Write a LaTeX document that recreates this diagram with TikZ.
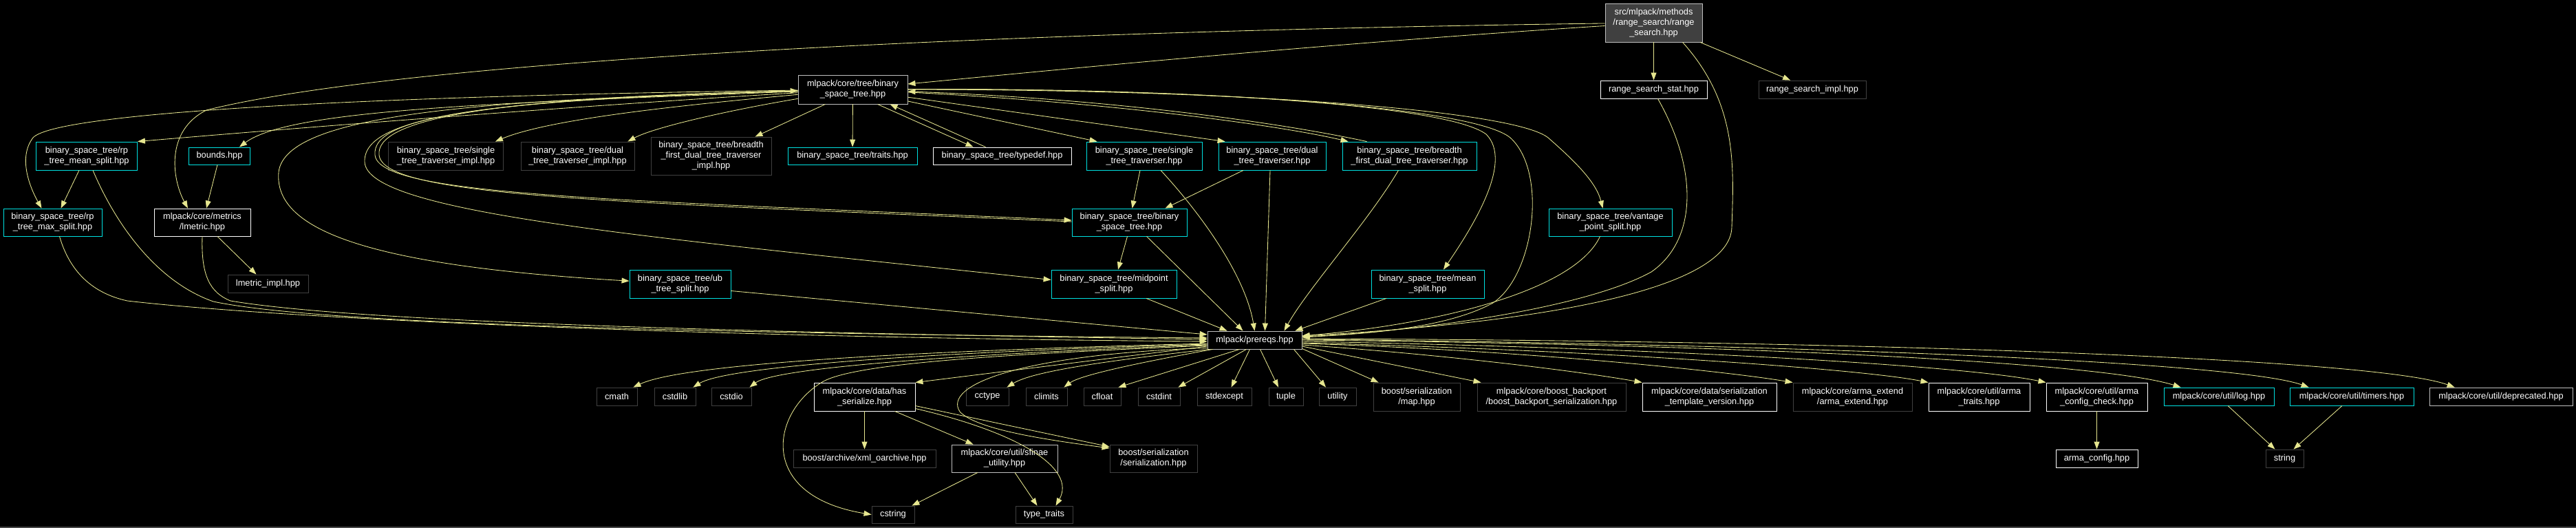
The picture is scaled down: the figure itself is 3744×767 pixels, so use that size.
\documentclass[tikz,border=0pt]{standalone}
\usepackage{fontspec}
\setmainfont{Liberation Sans}
\usetikzlibrary{arrows.meta,calc}
\definecolor{edgec}{RGB}{230,230,143}
\definecolor{cyanb}{RGB}{0,224,224}
\definecolor{lgray}{RGB}{191,191,191}
\definecolor{dgray}{RGB}{64,64,64}
\definecolor{bline}{RGB}{70,70,70}
\begin{document}
\begin{tikzpicture}[x=1pt,y=-1pt,
  box/.style={draw, rectangle, fill=black, text=white, inner sep=0pt, align=center,
              font=\fontsize{12.8}{15}\selectfont, line width=0.85pt},
  cb/.style={box, draw=cyanb},
  wb/.style={box, draw=white},
  lb/.style={box, draw=lgray},
  db/.style={box, draw=dgray},
  wh/.style 2 args={minimum width=#1pt, minimum height=#2pt},
  edge/.style={draw=edgec, line width=0.85pt, -{Triangle[length=11pt,width=8pt]}}]
\fill[black] (0,0) rectangle (3744,767);
\useasboundingbox (0,0) rectangle (3744,767);
\draw[bline, line width=1.5pt] (0,766) -- (3744,766);

% ---------- nodes ----------
\node[lb, fill=dgray, wh={141}{56}] (top) at (2403.5,33) {src/mlpack/methods\\/range\_search/range\\\_search.hpp};
\node[lb, wh={159}{42}] (bst) at (1239.5,130) {mlpack/core/tree/binary\\\_space\_tree.hpp};
\node[wb, wh={155}{26}] (stat) at (2403.5,130) {range\_search\_stat.hpp};
\node[db, wh={156}{26}] (impl) at (2634,130) {range\_search\_impl.hpp};

\node[cb, wh={147}{41}] (rpmean) at (126,226.5) {binary\_space\_tree/rp\\\_tree\_mean\_split.hpp};
\node[cb, wh={89}{25}] (bounds) at (319,226.5) {bounds.hpp};
\node[db, wh={167}{41}] (stimpl) at (648,226.5) {binary\_space\_tree/single\\\_tree\_traverser\_impl.hpp};
\node[db, wh={165}{41}] (dtimpl) at (839.5,226.5) {binary\_space\_tree/dual\\\_tree\_traverser\_impl.hpp};
\node[db, wh={175}{55}] (bfimpl) at (1033.5,226.5) {binary\_space\_tree/breadth\\\_first\_dual\_tree\_traverser\\\_impl.hpp};
\node[cb, wh={188}{25}] (traits) at (1239,226.5) {binary\_space\_tree/traits.hpp};
\node[wb, wh={201}{25}] (typedef) at (1456.5,226.5) {binary\_space\_tree/typedef.hpp};
\node[cb, wh={168}{41}] (st) at (1663,226.5) {binary\_space\_tree/single\\\_tree\_traverser.hpp};
\node[cb, wh={156}{41}] (dt) at (1849,226.5) {binary\_space\_tree/dual\\\_tree\_traverser.hpp};
\node[cb, wh={195}{41}] (bf) at (2048.5,226.5) {binary\_space\_tree/breadth\\\_first\_dual\_tree\_traverser.hpp};

\node[cb, wh={143}{40}] (rpmax) at (76.5,323) {binary\_space\_tree/rp\\\_tree\_max\_split.hpp};
\node[wb, wh={140}{40}] (lmetric) at (294,323) {mlpack/core/metrics\\/lmetric.hpp};
\node[cb, wh={167}{40}] (bstb) at (1641.5,323) {binary\_space\_tree/binary\\\_space\_tree.hpp};
\node[cb, wh={179}{40}] (vp) at (2340.5,323) {binary\_space\_tree/vantage\\\_point\_split.hpp};

\node[db, wh={117}{26}] (lmimpl) at (389.5,412) {lmetric\_impl.hpp};
\node[cb, wh={147}{41}] (ub) at (988.5,412.5) {binary\_space\_tree/ub\\\_tree\_split.hpp};
\node[cb, wh={182}{41}] (mid) at (1619,412.5) {binary\_space\_tree/midpoint\\\_split.hpp};
\node[cb, wh={164}{41}] (mean) at (2075,412.5) {binary\_space\_tree/mean\\\_split.hpp};

\node[lb, wh={137}{26}] (prereqs) at (1823.5,494) {mlpack/prereqs.hpp};

\node[db, wh={59}{26}] (cmath) at (896.5,576) {cmath};
\node[db, wh={60}{26}] (cstdlib) at (981,576) {cstdlib};
\node[db, wh={58}{26}] (cstdio) at (1063,576) {cstdio};
\node[wb, wh={147}{41}] (hasser) at (1256.5,576.5) {mlpack/core/data/has\\\_serialize.hpp};
\node[db, wh={62}{26}] (cctype) at (1435,576) {cctype};
\node[db, wh={60}{26}] (climits) at (1521,576) {climits};
\node[db, wh={54}{26}] (cfloat) at (1602,576) {cfloat};
\node[db, wh={61}{26}] (cstdint) at (1684.5,576) {cstdint};
\node[db, wh={79}{26}] (stdexcept) at (1779.5,576) {stdexcept};
\node[db, wh={50}{26}] (tuple) at (1869,576) {tuple};
\node[db, wh={54}{26}] (utility) at (1944,576) {utility};
\node[db, wh={126}{41}] (map) at (2059,576.5) {boost/serialization\\/map.hpp};
\node[db, wh={216}{41}] (backport) at (2255,576.5) {mlpack/core/boost\_backport\\/boost\_backport\_serialization.hpp};
\node[wb, wh={195}{41}] (stv) at (2484.5,576.5) {mlpack/core/data/serialization\\\_template\_version.hpp};
\node[db, wh={173}{41}] (armaext) at (2692.5,576.5) {mlpack/core/arma\_extend\\/arma\_extend.hpp};
\node[wb, wh={147}{41}] (armatraits) at (2876.5,576.5) {mlpack/core/util/arma\\\_traits.hpp};
\node[wb, wh={147}{41}] (armacc) at (3047.5,576.5) {mlpack/core/util/arma\\\_config\_check.hpp};
\node[cb, wh={160}{26}] (log) at (3225,576) {mlpack/core/util/log.hpp};
\node[cb, wh={180}{26}] (timers) at (3418,576) {mlpack/core/util/timers.hpp};
\node[lb, wh={208}{26}] (deprecated) at (3635,576) {mlpack/core/util/deprecated.hpp};

\node[db, wh={207}{26}] (xml) at (1256.5,666) {boost/archive/xml\_oarchive.hpp};
\node[lb, wh={154}{40}] (sfinae) at (1460,666) {mlpack/core/util/sfinae\\\_utility.hpp};
\node[db, wh={127}{40}] (bser) at (1676.5,666) {boost/serialization\\/serialization.hpp};
\node[wb, wh={119}{26}] (armaconfig) at (3047.5,666) {arma\_config.hpp};
\node[db, wh={55}{26}] (string) at (3320.5,666) {string};
\node[db, wh={62}{25}] (cstring) at (1298,747.5) {cstring};
\node[db, wh={83}{25}] (typetraits) at (1517.5,747.5) {type\_traits};

% ---------- edges from the top file ----------
\draw[edge] (top) -- (stat);
\draw[edge] (top) -- (impl);
\draw[edge] ($(top.south)+(42,0)$) .. controls (2525,150) and (2520,240) .. (2517,330) .. controls (2515,410) and (2300,465) .. ($(prereqs.east)+(0,-6)$);
\draw[edge] (top) .. controls (1500,45) and (600,85) .. (300,160) .. controls (240,190) and (250,260) .. ($(lmetric.north)+(-21,0)$);
\draw[edge] (top) .. controls (1900,65) and (1500,105) .. ($(bst.east)+(0,-8)$);

% ---------- edges from core binary_space_tree.hpp ----------
\draw[edge] (bst) .. controls (500,140) and (80,165) .. (48,200) .. controls (25,230) and (45,275) .. ($(rpmax.north)+(-16,0)$);
\draw[edge] (bst) .. controls (900,150) and (500,180) .. (rpmean.north east);
\draw[edge] (bst) .. controls (700,150) and (420,160) .. ($(bounds.north east)+(-16,0)$);
\draw[edge] (bst) .. controls (700,145) and (415,165) .. (405,250) .. controls (398,330) and (520,385) .. (ub);
\draw[edge] (bst) .. controls (700,145) and (540,170) .. (545,225) .. controls (550,285) and (900,290) .. ($(bstb.west)+(0,-3)$);
\draw[edge] ($(bstb.west)+(0,-1)$) .. controls (900,293) and (556,287) .. (551,225) .. controls (546,175) and (700,142) .. (bst);
\draw[edge] (bst) .. controls (700,145) and (528,170) .. (530,235) .. controls (532,310) and (950,345) .. ($(mid.west)+(0,-6)$);
\draw[edge] (bst) .. controls (1000,152) and (800,172) .. ($(stimpl.north east)+(-12,0)$);
\draw[edge] (bst) .. controls (1060,160) and (950,185) .. ($(dtimpl.north east)+(-10,0)$);
\draw[edge] ($(bst.south)+(-40,0)$) -- ($(bfimpl.north)+(64,0)$);
\draw[edge] (bst) -- (traits);
\draw[edge] ($(bst.south)+(36,0)$) -- ($(typedef.north)+(-42,0)$);
\draw[edge] ($(typedef.north)+(-24,0)$) -- ($(bst.south)+(54,0)$);
\draw[edge] (bst) -- ($(st.north west)+(16,0)$);
\draw[edge] (bst) -- ($(dt.north west)+(10,0)$);
\draw[edge] (bst) .. controls (1600,148) and (1850,180) .. ($(bf.north west)+(9,0)$);
\draw[edge] ($(bf.north west)+(36,0)$) .. controls (1850,176) and (1600,143) .. (bst);
\draw[edge] (bst) .. controls (1700,128) and (2100,150) .. (2160,195) .. controls (2200,235) and (2140,330) .. ($(mean.north)+(23,0)$);
\draw[edge] (bst) .. controls (1750,128) and (2140,155) .. (2195,200) .. controls (2250,250) and (2230,400) .. (2170,440) .. controls (2100,478) and (1980,485) .. ($(prereqs.east)+(0,-4)$);
\draw[edge] (bst) .. controls (1800,130) and (2200,160) .. (2250,200) .. controls (2290,235) and (2320,265) .. ($(vp.north)+(-11,0)$);

% ---------- middle levels ----------
\draw[edge] ($(rpmean.south)+(-11,0)$) -- ($(rpmax.north)+(12,0)$);
\draw[edge] ($(rpmax.south)+(10,0)$) .. controls (100,390) and (130,425) .. (185,437) .. controls (400,462) and (1000,490) .. ($(prereqs.west)+(0,2)$);
\draw[edge] ($(rpmean.south)+(9,0)$) .. controls (170,330) and (230,410) .. (310,438) .. controls (460,470) and (1000,484) .. ($(prereqs.west)+(0,-3)$);
\draw[edge] (lmetric.south) .. controls (292,400) and (305,425) .. (335,437) .. controls (500,465) and (1000,482) .. ($(prereqs.west)+(0,-1)$);
\draw[edge] ($(bounds.south)+(-3,0)$) -- ($(lmetric.north)+(6,0)$);
\draw[edge] ($(lmetric.south)+(22,0)$) -- ($(lmimpl.north)+(-17,0)$);
\draw[edge] ($(st.south)+(-6,0)$) -- ($(bstb.north)+(4,0)$);
\draw[edge] ($(st.south)+(24,0)$) .. controls (1745,310) and (1810,400) .. (prereqs.north);
\draw[edge] ($(dt.south)+(-42,0)$) -- ($(bstb.north)+(52,0)$);
\draw[edge] ($(dt.south)+(-3,0)$) -- ($(prereqs.north)+(15,0)$);
\draw[edge] ($(bf.south)+(-16,0)$) .. controls (1990,320) and (1900,420) .. ($(prereqs.north)+(43,0)$);
\draw[edge] ($(bstb.south)+(-3,0)$) -- ($(mid.north)+(6,0)$);
\draw[edge] ($(bstb.south)+(25,0)$) -- ($(prereqs.north)+(-17,0)$);
\draw[edge] ($(mid.south)+(47,0)$) -- ($(prereqs.north)+(-40,0)$);
\draw[edge] ($(ub.east)+(0,10)$) -- ($(prereqs.west)+(0,-8)$);
\draw[edge] ($(mean.south)+(-60,0)$) -- ($(prereqs.north east)+(-10,0)$);
\draw[edge] ($(vp.south)+(-15,0)$) .. controls (2290,420) and (2100,470) .. ($(prereqs.east)+(0,-6)$);
\draw[edge] ($(stat.south)+(6,0)$) .. controls (2470,250) and (2465,350) .. (2400,395) .. controls (2300,450) and (2050,482) .. ($(prereqs.east)+(0,-5)$);

% ---------- edges from prereqs.hpp ----------
\draw[edge] ($(prereqs.west)+(0,5)$) .. controls (1400,508) and (1000,525) .. ($(cmath.north east)+(-6,0)$);
\draw[edge] ($(prereqs.west)+(0,6)$) .. controls (1400,510) and (1060,530) .. ($(cstdlib.north east)+(-4,0)$);
\draw[edge] ($(prereqs.west)+(0,7)$) .. controls (1450,512) and (1130,532) .. ($(cstdio.north east)+(-3,0)$);
\draw[edge] ($(prereqs.west)+(0,8)$) .. controls (1450,515) and (1240,528) .. (1195,555) .. controls (1120,600) and (1100,720) .. (cstring.west);
\draw[edge] ($(prereqs.west)+(0,9)$) -- (hasser.north east);
\draw[edge] ($(prereqs.south west)+(3,0)$) .. controls (1600,525) and (1500,540) .. ($(cctype.north east)+(-3,0)$);
\draw[edge] ($(prereqs.south west)+(8,0)$) .. controls (1654,527) and (1570,545) .. ($(climits.north east)+(-5,0)$);
\draw[edge] ($(prereqs.south)+(-22,0)$) -- ($(cfloat.north east)+(-4,0)$);
\draw[edge] ($(prereqs.south)+(-12,0)$) -- ($(cstdint.north east)+(-3,0)$);
\draw[edge] ($(prereqs.south)+(-7,0)$) -- ($(stdexcept.north)+(10,0)$);
\draw[edge] ($(prereqs.south)+(8,0)$) -- ($(tuple.north)+(-11,0)$);
\draw[edge] ($(prereqs.south east)+(-12,0)$) -- ($(utility.north)+(-17,0)$);
\draw[edge] ($(prereqs.south east)+(0,-1)$) -- ($(map.north west)+(8,0)$);
\draw[edge] ($(prereqs.east)+(0,9)$) -- ($(backport.north west)+(6,0)$);
\draw[edge] ($(prereqs.east)+(0,7)$) .. controls (2100,515) and (2300,540) .. (stv.north west);
\draw[edge] ($(prereqs.east)+(0,5)$) .. controls (2200,508) and (2500,538) .. (armaext.north west);
\draw[edge] ($(prereqs.east)+(0,4)$) .. controls (2300,508) and (2700,535) .. (armatraits.north west);
\draw[edge] ($(prereqs.east)+(0,2)$) .. controls (2400,505) and (2850,530) .. (armacc.north west);
\draw[edge] (prereqs.east) .. controls (2500,500) and (3050,525) .. ($(log.north west)+(25,0)$);
\draw[edge] ($(prereqs.east)+(0,-1)$) .. controls (2600,500) and (3250,525) .. ($(timers.north west)+(28,0)$);
\draw[edge] ($(prereqs.east)+(0,-2)$) .. controls (2700,495) and (3450,520) .. ($(deprecated.north west)+(37,0)$);
\draw[edge] ($(prereqs.south west)+(0,-2)$) .. controls (1480,515) and (1370,560) .. (1395,598) .. controls (1420,625) and (1530,640) .. ($(bser.west)+(0,-15)$);

% ---------- bottom levels ----------
\draw[edge] (hasser) -- (xml);
\draw[edge] ($(hasser.south)+(44,0)$) -- ($(sfinae.north west)+(32,0)$);
\draw[edge] ($(hasser.east)+(0,13)$) -- ($(bser.west)+(0,-17)$);
\draw[edge] ($(hasser.east)+(0,17)$) .. controls (1480,628) and (1565,680) .. ($(typetraits.north)+(17,0)$);
\draw[edge] ($(sfinae.south)+(-39,0)$) -- ($(cstring.north east)+(-4,0)$);
\draw[edge] ($(sfinae.south)+(15,0)$) -- ($(typetraits.north)+(-10,0)$);
\draw[edge] (armacc) -- (armaconfig);
\draw[edge] ($(log.south)+(13,0)$) -- ($(string.north)+(-14,0)$);
\draw[edge] ($(timers.south)+(-14,0)$) -- ($(string.north)+(13,0)$);
\end{tikzpicture}
\end{document}
